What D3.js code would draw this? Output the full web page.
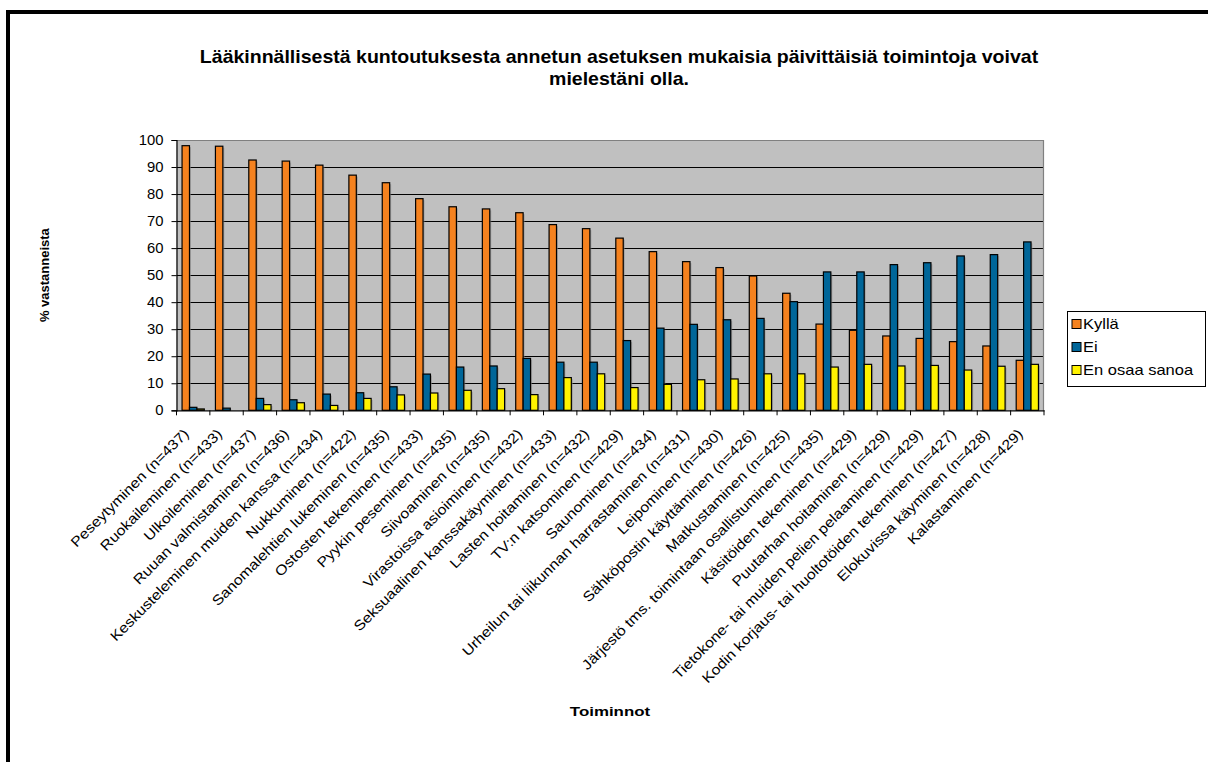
<!DOCTYPE html>
<html>
<head>
<meta charset="utf-8">
<script src="https://cdn.jsdelivr.net/npm/d3@7/dist/d3.min.js"></script>
<style>
  html, body { margin: 0; padding: 0; background: #fff; }
  svg { display: block; font-family: Arial, "Liberation Sans", sans-serif; }
</style>
</head>
<body>
<svg id="chart" width="1208" height="762"></svg>
<script>
// Activities (with respondent counts) and share of answers per option, %
const categories = [
  "Peseytyminen (n=437)",
  "Ruokaileminen (n=433)",
  "Ulkoileminen (n=437)",
  "Ruuan valmistaminen (n=436)",
  "Keskusteleminen muiden kanssa (n=434)",
  "Nukkuminen (n=422)",
  "Sanomalehtien lukeminen (n=435)",
  "Ostosten tekeminen (n=433)",
  "Pyykin peseminen (n=435)",
  "Siivoaminen (n=435)",
  "Virastoissa asioiminen (n=432)",
  "Seksuaalinen kanssakäyminen (n=433)",
  "Lasten hoitaminen (n=432)",
  "TV:n katsominen (n=429)",
  "Saunominen (n=434)",
  "Urheilun tai liikunnan harrastaminen (n=431)",
  "Leipominen (n=430)",
  "Sähköpostin käyttäminen (n=426)",
  "Matkustaminen (n=425)",
  "Järjestö tms. toimintaan osallistuminen (n=435)",
  "Käsitöiden tekeminen (n=429)",
  "Puutarhan hoitaminen (n=429)",
  "Tietokone- tai muiden pelien pelaaminen (n=429)",
  "Kodin korjaus- tai huoltotöiden tekeminen (n=427)",
  "Elokuvissa käyminen (n=428)",
  "Kalastaminen (n=429)"
];
const kylla = [97.9, 97.7, 92.6, 92.2, 90.7, 87.0, 84.2, 78.3, 75.3, 74.5, 73.1, 68.7, 67.2,
               63.7, 58.7, 55.0, 52.8, 49.7, 43.3, 31.9, 29.6, 27.5, 26.6, 25.4, 23.8, 18.5];
const ei    = [1.1, 0.8, 4.4, 3.9, 6.0, 6.5, 8.7, 13.4, 16.0, 16.4, 19.2, 17.8, 17.8,
               25.8, 30.4, 31.8, 33.5, 34.0, 40.2, 51.2, 51.2, 53.9, 54.6, 57.1, 57.6, 62.3];
const enOsaa = [0.5, 0.0, 2.1, 2.8, 1.8, 4.4, 5.7, 6.4, 7.4, 8.0, 5.8, 12.1, 13.5,
                8.4, 9.6, 11.3, 11.6, 13.5, 13.5, 16.0, 17.0, 16.4, 16.6, 14.9, 16.3, 17.0];
const seriesNames = ["Kyllä", "Ei", "En osaa sanoa"];
const seriesColors = ["#F5821F", "#006699", "#FFF200"];
const yTicks = [0, 10, 20, 30, 40, 50, 60, 70, 80, 90, 100];

const titleLines = [
  "Lääkinnällisestä kuntoutuksesta annetun asetuksen mukaisia päivittäisiä toimintoja voivat",
  "mielestäni olla."
];

const series = [kylla, ei, enOsaa];
const svg = d3.select("#chart");

// Outer frame
svg.append("rect")
  .attr("x", 8).attr("y", 12)
  .attr("width", 1400).attr("height", 1000)
  .attr("fill", "none").attr("stroke", "#000").attr("stroke-width", 4);

// Plot area
const plot = { left: 176.5, top: 140, right: 1044, bottom: 410.3 };

const x0 = d3.scaleBand()
  .domain(categories)
  .range([plot.left, plot.right])
  .paddingInner(0).paddingOuter(0);

const bw = x0.bandwidth() / 4.5;
const x1 = d3.scaleBand()
  .domain(seriesNames)
  .range([bw * 0.75, bw * 3.75]);

const y = d3.scaleLinear().domain([0, 100]).range([plot.bottom, plot.top]);

// Background
svg.append("rect")
  .attr("x", plot.left).attr("y", plot.top)
  .attr("width", plot.right - plot.left).attr("height", plot.bottom - plot.top)
  .attr("fill", "#C0C0C0");

// Horizontal gridlines
svg.append("g")
  .selectAll("line")
  .data(yTicks.filter(t => t > 0 && t < 100))
  .join("line")
  .attr("x1", plot.left).attr("x2", plot.right)
  .attr("y1", d => Math.round(y(d)) + 0.5).attr("y2", d => Math.round(y(d)) + 0.5)
  .attr("stroke", "#000").attr("stroke-width", 1);

// Plot border (top and right in gray)
svg.append("path")
  .attr("d", `M${plot.left},${plot.top + 0.5}H${plot.right - 0.5}V${plot.bottom}`)
  .attr("fill", "none").attr("stroke", "#808080").attr("stroke-width", 1.2);

// Bars
const groups = svg.append("g")
  .selectAll("g")
  .data(categories)
  .join("g")
  .attr("transform", d => `translate(${x0(d)},0)`);

groups.each(function (cat, i) {
  const g = d3.select(this);
  seriesNames.forEach((name, s) => {
    const v = series[s][i];
    if (v <= 0) return;
    const bx = x1(name);
    const top = y(v);
    // soft drop shadow
    g.append("rect")
      .attr("x", bx + 1.5).attr("y", top + 1.5)
      .attr("width", x1.bandwidth()).attr("height", Math.max(0, plot.bottom - top - 1.5))
      .attr("fill", "#8a8a8a").attr("opacity", 0.6);
    g.append("rect")
      .attr("x", bx).attr("y", top)
      .attr("width", x1.bandwidth()).attr("height", plot.bottom - top)
      .attr("fill", seriesColors[s])
      .attr("stroke", "#000").attr("stroke-width", 1.2);
  });
});

// Y axis
const yAxis = svg.append("g")
  .attr("transform", `translate(${plot.left},0)`)
  .call(d3.axisLeft(y).tickValues(yTicks).tickSize(5).tickFormat(d3.format("d")));
yAxis.select(".domain").attr("stroke", "#000").attr("stroke-width", 1.2);
yAxis.selectAll(".tick line").attr("stroke", "#000");
// slightly widened numerals, right edge kept in place
yAxis.selectAll(".tick text")
  .attr("x", null)
  .attr("transform", "translate(-13,0) scale(1.06,1)")
  .attr("font-size", 14).attr("fill", "#000")
  .attr("font-family", "Arial, 'Liberation Sans', sans-serif");

// X axis
const xAxis = svg.append("g")
  .attr("transform", `translate(0,${plot.bottom})`)
  .call(d3.axisBottom(x0).tickSize(0).tickFormat(""));
xAxis.select(".domain").attr("stroke", "#000").attr("stroke-width", 1.2);
xAxis.selectAll(".tick").remove();

// Category boundary tick marks
svg.append("g")
  .selectAll("line")
  .data(d3.range(categories.length + 1))
  .join("line")
  .attr("x1", i => plot.left + i * x0.step())
  .attr("x2", i => plot.left + i * x0.step())
  .attr("y1", plot.bottom).attr("y2", plot.bottom + 5)
  .attr("stroke", "#000").attr("stroke-width", 1);

// Rotated category labels
svg.append("g")
  .selectAll("text")
  .data(categories)
  .join("text")
  .attr("transform", d => {
    const cx = x0(d) + x0.bandwidth() / 2 - 7;
    return `translate(${cx},${plot.bottom + 21}) rotate(-45) scale(1.14,1)`;
  })
  .attr("text-anchor", "end")
  .attr("dy", "0.35em")
  .attr("font-size", 14)
  .attr("fill", "#000")
  .text(d => d);

// Title
svg.append("g")
  .attr("transform", "translate(619,0) scale(1.085,1)")
  .selectAll("text")
  .data(titleLines)
  .join("text")
  .attr("x", 0)
  .attr("y", (d, i) => 63 + i * 22)
  .attr("text-anchor", "middle")
  .attr("font-size", 18)
  .attr("font-weight", "bold")
  .attr("fill", "#000")
  .text(d => d);

// Axis titles
svg.append("text")
  .attr("transform", `translate(49,${(plot.top + plot.bottom) / 2}) rotate(-90)`)
  .attr("text-anchor", "middle")
  .attr("font-size", 13)
  .attr("font-weight", "bold")
  .text("% vastanneista");

svg.append("text")
  .attr("transform", "translate(610,716) scale(1.3,1)")
  .attr("text-anchor", "middle")
  .attr("font-size", 13)
  .attr("font-weight", "bold")
  .text("Toiminnot");

// Legend
const legend = svg.append("g").attr("transform", "translate(1067,311)");
legend.append("rect")
  .attr("x", 0.5).attr("y", 0.5)
  .attr("width", 138).attr("height", 75)
  .attr("fill", "#fff").attr("stroke", "#000").attr("stroke-width", 1);
const items = legend.selectAll("g")
  .data(seriesNames)
  .join("g")
  .attr("transform", (d, i) => `translate(5,${13 + i * 23})`);
items.append("rect")
  .attr("x", 0).attr("y", -4.5)
  .attr("width", 9).attr("height", 9)
  .attr("fill", (d, i) => seriesColors[i])
  .attr("stroke", "#000").attr("stroke-width", 1);
items.append("text")
  .attr("transform", "translate(11,0) scale(1.18,1)")
  .attr("dy", "0.35em")
  .attr("font-size", 14)
  .text(d => d);
</script>
</body>
</html>
